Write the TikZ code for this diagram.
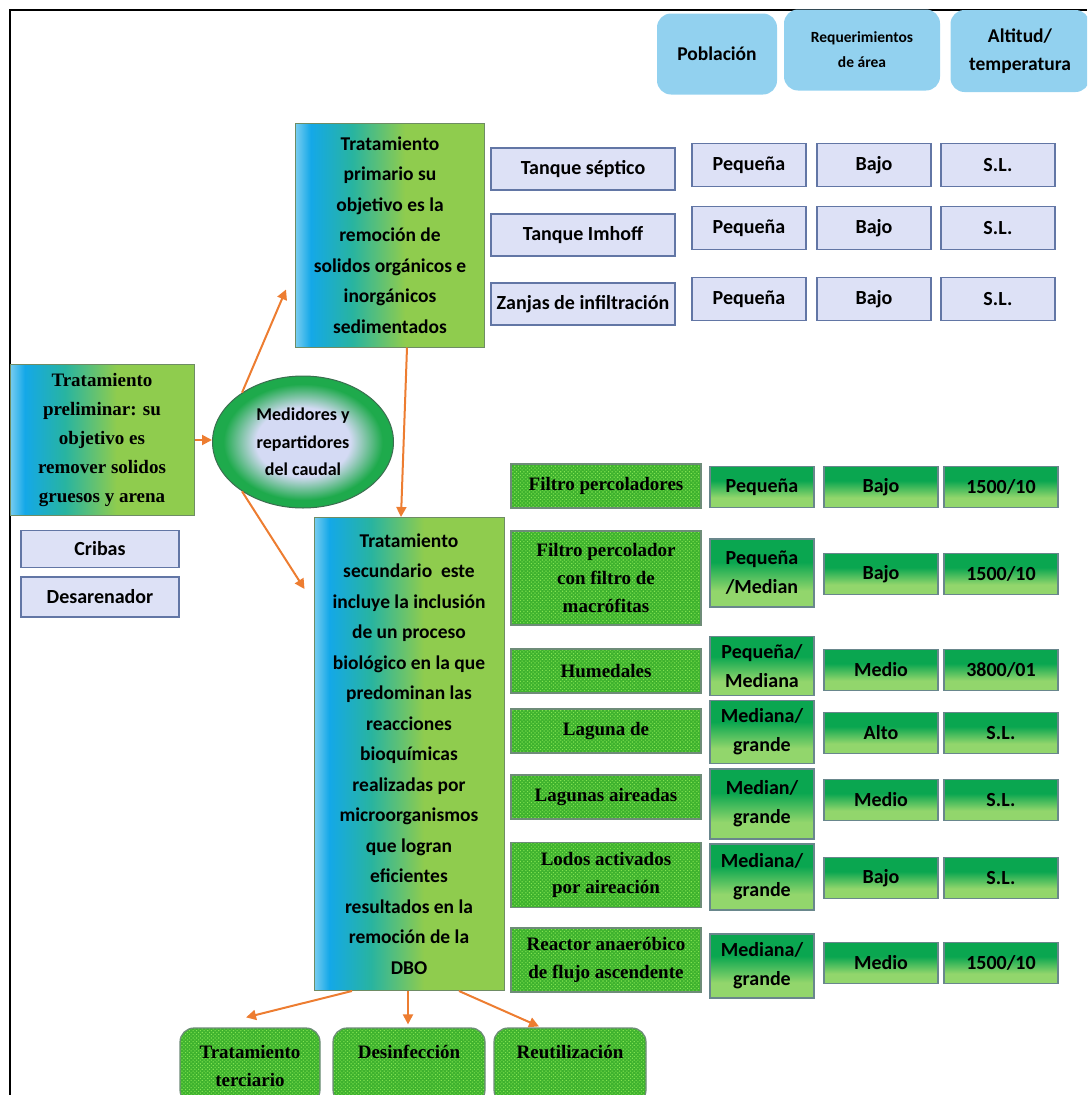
\documentclass[tikz,border=0pt]{standalone}
\usepackage{fontspec}
\usepackage{xcolor}
\usepackage{tikz}
\usetikzlibrary{positioning, arrows.meta, shapes.geometric, calc, patterns.meta}

\newfontfamily\calib{Carlito}
\newfontfamily\tnr{Liberation Serif}

\definecolor{hdrBlue}{RGB}{146,209,239}
\definecolor{lavFill}{RGB}{221,225,246}
\definecolor{lavLine}{RGB}{98,118,165}
\definecolor{gbL}{RGB}{120,205,240}
\definecolor{gbB}{RGB}{20,168,232}
\definecolor{gbT}{RGB}{40,180,160}
\definecolor{gbG}{RGB}{143,204,78}
\definecolor{gLine}{RGB}{110,140,100}
\definecolor{gLight}{RGB}{146,214,108}
\definecolor{gDark}{RGB}{10,166,80}
\definecolor{gboxLine}{RGB}{105,135,140}
\definecolor{pGreen}{RGB}{62,178,46}
\definecolor{pDot}{RGB}{130,228,80}
\definecolor{pLine}{RGB}{110,140,120}
\definecolor{eLav}{RGB}{212,218,244}
\definecolor{eGreen}{RGB}{30,170,76}
\definecolor{eLine}{RGB}{60,110,80}
\definecolor{arrOrange}{RGB}{237,125,49}

\pgfdeclarehorizontalshading{bgshade}{100bp}{color(0bp)=(gbL); color(25bp)=(gbL); color(29bp)=(gbB); color(40bp)=(gbT); color(54bp)=(gbG); color(100bp)=(gbG)}
\pgfdeclareverticalshading{gshade}{100bp}{color(0bp)=(gLight); color(37bp)=(gLight); color(58bp)=(gDark); color(100bp)=(gDark)}
\pgfdeclareradialshading{eshade}{\pgfpoint{0bp}{0bp}}{color(0bp)=(eLav); color(13bp)=(eLav); color(22bp)=(eGreen); color(50bp)=(eGreen)}

\begin{document}
\begin{tikzpicture}[x=1pt, y=-1pt,
    hdr/.style={fill=hdrBlue, rounded corners=14pt, inner sep=0pt, align=center},
    lavbox/.style={draw=lavLine, line width=1.2pt, fill=lavFill, inner sep=0pt, minimum width=114pt, minimum height=43pt, font=\calib\bfseries\fontsize{20}{24}\selectfont},
    gradbox/.style={draw=gLine, line width=1pt, shading=bgshade, inner sep=0pt, align=center, font=\calib\bfseries\fontsize{19.5}{30.5}\selectfont},
    gbox/.style={draw=gboxLine, line width=1.2pt, shading=gshade, inner sep=0pt, align=center, minimum width=114pt, font=\calib\bfseries\fontsize{20}{29}\selectfont},
    patbox/.style={draw=pLine, line width=1.2pt, preaction={fill=pGreen}, pattern={Dots[radius=0.75pt, distance=2.6pt, angle=45]}, pattern color=pDot, inner sep=0pt, align=center, minimum width=190pt, font=\tnr\bfseries\fontsize{19}{28}\selectfont},
    botbox/.style={patbox, rounded corners=14pt, minimum width=152pt, minimum height=76pt},
    arr/.style={draw=arrOrange, line width=2pt, -{Triangle[length=10pt, width=10pt]}}
  ]
    \clip (0,0) rectangle (1087,1095);
    \useasboundingbox (0,0) rectangle (1087,1095);

    % Frame
    \draw[line width=1.5pt] (1087,10) -- (10,10) -- (10,1095);

    % Column headers
    \node[hdr, minimum width=120pt, minimum height=81pt, font=\calib\bfseries\fontsize{19.5}{24}\selectfont] (pob) at (717,54) {Población};
    \node[hdr, minimum width=156pt, minimum height=81pt, font=\calib\bfseries\fontsize{15.5}{25}\selectfont] (req) at (862,50) {Requerimientos\\de área};
    \node[hdr, minimum width=139pt, minimum height=82pt, font=\calib\bfseries\fontsize{19.5}{28}\selectfont] (alt) at (1020,51) {Altitud/\\temperatura};

    % Preliminary treatment
    \node[gradbox, minimum width=184pt, minimum height=151pt, font=\tnr\bfseries\fontsize{19}{29}\selectfont] (prelim) at (102,440) {Tratamiento\\preliminar: su\\objetivo es\\remover solidos\\gruesos y arena};
    \node[lavbox, minimum width=158pt, minimum height=37pt] (crib) at (100,549) {Cribas};
    \node[lavbox, minimum width=158pt, minimum height=40pt] (desar) at (100,597) {Desarenador};

    % Flow meters
    \node[ellipse, draw=eLine, line width=1pt, shading=eshade, minimum width=181pt, minimum height=132pt, inner sep=0pt, align=center, font=\calib\bfseries\fontsize{18}{27.5}\selectfont] (med) at (303,442) {Medidores y\\repartidores\\del caudal};

    % Primary treatment
    \node[gradbox, minimum width=189pt, minimum height=224pt] (prim) at (390,235) {Tratamiento\\primario su\\objetivo es la\\remoción de\\solidos orgánicos e\\inorgánicos\\sedimentados};

    \foreach \i/\y/\txt in {1/169/Tanque séptico, 2/235/Tanque Imhoff, 3/304/Zanjas de infiltración} {
        \node[lavbox, minimum width=184pt, minimum height=42pt] (tq\i) at (583,\y) {\txt};
    }
    \foreach \i/\y in {1/165, 2/228, 3/299} {
        \node[lavbox] (pq\i) at (749,\y) {Pequeña};
        \node[lavbox] (bj\i) at (874,\y) {Bajo};
        \node[lavbox] (sl\i) at (998,\y) {S.L.};
    }

    % Secondary treatment
    \node[gradbox, minimum width=190pt, minimum height=473pt] (sec) at (409,754) {Tratamiento\\secundario\ \ este\\incluye la inclusión\\de un proceso\\biológico en la que\\predominan las\\reacciones\\bioquímicas\\realizadas por\\microorganismos\\que logran\\eficientes\\resultados en la\\remoción de la\\DBO};

    \foreach \i/\y/\h/\txt in {1/486/44/Filtro percoladores, 2/578/94/{Filtro percolador\\con filtro de\\macrófitas}, 3/671/44/Humedales, 4/731/44/Laguna de, 5/797/44/Lagunas aireadas, 6/875/65/{Lodos activados\\por aireación}, 7/960/64/{Reactor anaeróbico\\de flujo ascendente}} {
        \node[patbox, minimum height=\h pt] (ps\i) at (606,\y) {\txt};
    }
    \foreach \i/\yp/\hp/\pop/\yc/\area/\hgt in {
        1/487/41/Pequeña/487/Bajo/{1500/10},
        2/573/68/{Pequeña\\/Median}/574/Bajo/{1500/10},
        3/666/59/{Pequeña/\\Mediana}/670/Medio/{3800/01},
        4/732/63/{Mediana/\\grande}/733/Alto/S.L.,
        5/804/70/{Median/\\grande}/800/Medio/S.L.,
        6/877/66/{Mediana/\\grande}/878/Bajo/S.L.,
        7/966/64/{Mediana/\\grande}/963/Medio/{1500/10}} {
        \node[gbox, minimum width=104pt, minimum height=\hp pt] (sp\i) at (762,\yp) {\pop};
        \node[gbox, minimum height=41pt] (sa\i) at (881,\yc) {\area};
        \node[gbox, minimum height=41pt] (st\i) at (1001,\yc) {\hgt};
    }

    % Tertiary stage
    \node[botbox, minimum width=140pt] (terc) at (250,1066) {Tratamiento\\terciario};
    \node[botbox] (desinf) at (409,1066) {Desinfección\\ \mbox{}};
    \node[botbox] (reuse) at (570,1066) {Reutilización\\ \mbox{}};

    % Arrows
    \draw[arr] (prelim.east) -- (prelim.east -| med.west);
    \draw[arr] (med.141) -- ($(prim.south west)+(-9,-58)$);
    \draw[arr] (med.219) -- ($(sec.north west)+(-9,72)$);
    \draw[arr] ($(prim.south)+(17,0)$) -- ($(sec.north)+(-8,0)$);
    \draw[arr] ($(sec.south)+(-57,0)$) -- ($(terc.north)+(-4,-10)$);
    \draw[arr] ($(sec.south)+(-1,0)$) -- ($(desinf.north)+(-1,-3)$);
    \draw[arr] ($(sec.south)+(50,0)$) -- ($(reuse.north)+(-31,-1)$);
\end{tikzpicture}
\end{document}
